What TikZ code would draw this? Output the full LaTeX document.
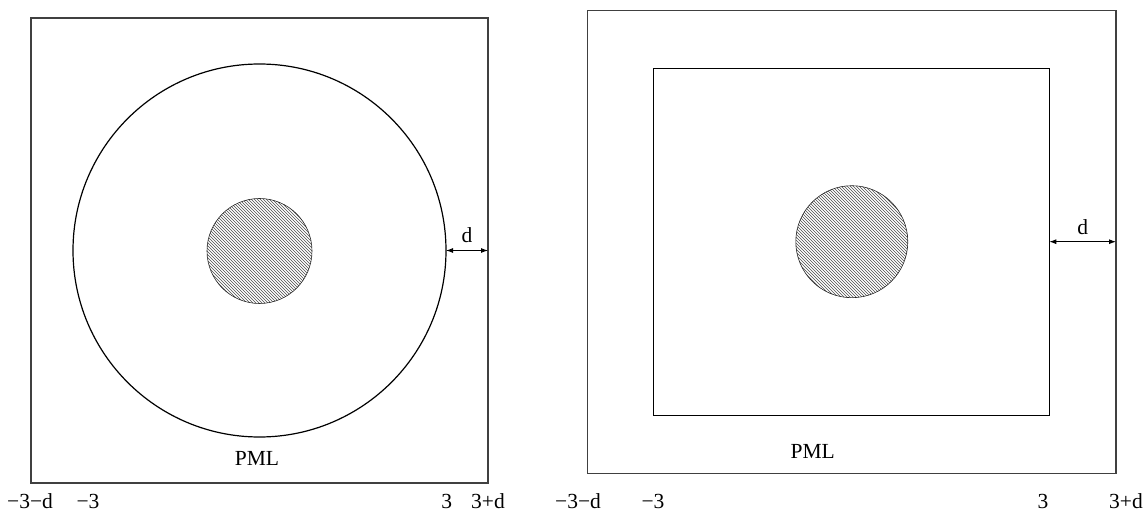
\documentclass[tikz,border=0pt]{standalone}
\usepackage{fontspec}
\setmainfont{Liberation Serif}
\usepackage{tikz}
\usetikzlibrary{patterns, arrows.meta, positioning}

\begin{document}
\begin{tikzpicture}[>={Latex[length=7pt, width=5pt]}, x=1pt, y=1pt]
    \tikzset{
        frame/.style={line width=1.1pt, black!75},
        edge/.style={line width=1.2pt, black},
        scatterer/.style={draw=black!85, line width=0.6pt, pattern=north west lines, pattern color=black!70},
        dimline/.style={<->, line width=0.9pt},
        lbl/.style={font=\fontsize{21.5}{25}\selectfont, inner sep=0pt}
    }
    \useasboundingbox (0,0) rectangle (1144,512);

    % Bên trái: biên trong hình tròn, lớp PML bao quanh
    \draw[frame] (31,29) rectangle (488,494);
    \draw[edge] (259.5,261.5) circle (186.5);
    \draw[scatterer] (259.5,261) circle (52.5);
    \coordinate (circR) at (446,261.5);
    \coordinate (boxLR) at (488,261.5);
    \draw[dimline] (circR) -- (boxLR) node[lbl, midway, above=7pt] (dL) {d};
    \node[lbl] (pmlL) at (257,54) {PML};

    % Bên phải: biên trong hình chữ nhật
    \draw[frame] (587.3,38.7) rectangle (1116,501.3);
    \draw[edge, line width=1.1pt] (653.3,96.5) rectangle (1049.3,443.7);
    \draw[scatterer] (851.8,270.3) circle (56);
    \coordinate (innerR) at (1049.3,270.3);
    \coordinate (boxRR) at (1116,270.3);
    \draw[dimline] (innerR) -- (boxRR) node[lbl, midway, above=7pt] (dR) {d};
    \node[lbl] (pmlR) at (812.7,60.3) {PML};

    % Nhãn tọa độ dưới trục hoành
    \node[lbl, anchor=base] (xa) at (30,4) {−3−d};
    \node[lbl, anchor=base] (xb) at (88,4) {−3};
    \node[lbl, anchor=base] (xc) at (446.7,4) {3};
    \node[lbl, anchor=base] (xd) at (488,4) {3+d};
    \node[lbl, anchor=base] (xe) at (578,4) {−3−d};
    \node[lbl, anchor=base] (xf) at (653,4) {−3};
    \node[lbl, anchor=base] (xg) at (1043,4) {3};
    \node[lbl, anchor=base] (xh) at (1126,4) {3+d};
\end{tikzpicture}
\end{document}
